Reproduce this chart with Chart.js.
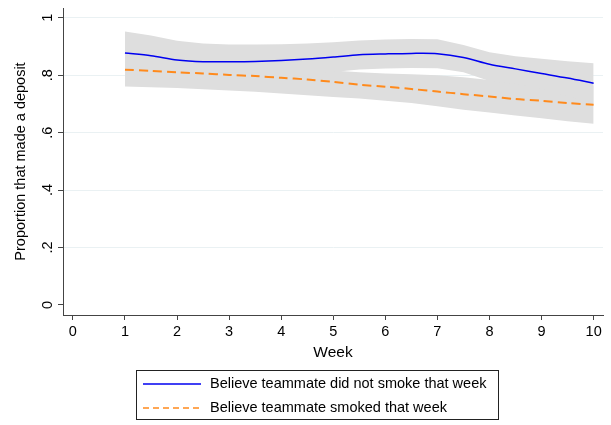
<!DOCTYPE html>
<html>
<head>
<meta charset="utf-8">
<script src="https://cdn.jsdelivr.net/npm/chart.js@4/dist/chart.umd.min.js"></script>
<style>
  html, body { margin: 0; padding: 0; background: #fff; }
  #wrap { width: 611px; height: 425px; position: relative; }
</style>
</head>
<body>
<div id="wrap"><canvas id="c"></canvas></div>
<script>
// ---- data ----
const weeks = [1, 1.5, 2, 2.5, 3, 3.5, 4, 4.5, 5, 5.5, 6, 6.5, 7, 7.5, 8, 8.5, 9, 9.5, 10];

const notSmokeMean  = [0.877, 0.868, 0.853, 0.847, 0.847, 0.848, 0.851, 0.856, 0.863, 0.871, 0.874, 0.876, 0.875, 0.862, 0.838, 0.822, 0.806, 0.790, 0.772];
const notSmokeUpper = [0.952, 0.938, 0.920, 0.910, 0.907, 0.907, 0.908, 0.910, 0.915, 0.921, 0.924, 0.926, 0.925, 0.905, 0.880, 0.866, 0.857, 0.849, 0.842];
const notSmokeLower = [0.802, 0.798, 0.786, 0.784, 0.787, 0.789, 0.794, 0.802, 0.811, 0.820, 0.823, 0.825, 0.824, 0.810, 0.780, 0.770, 0.752, 0.728, 0.702];

const smokedMean  = [0.819, 0.815, 0.810, 0.806, 0.801, 0.797, 0.791, 0.785, 0.777, 0.767, 0.760, 0.752, 0.743, 0.734, 0.726, 0.717, 0.711, 0.703, 0.697];
const smokedUpper = [0.877, 0.868, 0.860, 0.852, 0.846, 0.838, 0.831, 0.824, 0.816, 0.810, 0.806, 0.803, 0.800, 0.793, 0.783, 0.775, 0.770, 0.766, 0.763];
const smokedLower = [0.761, 0.758, 0.755, 0.751, 0.747, 0.742, 0.736, 0.730, 0.724, 0.719, 0.711, 0.703, 0.692, 0.680, 0.670, 0.660, 0.650, 0.640, 0.631];

const xTicks = [0, 1, 2, 3, 4, 5, 6, 7, 8, 9, 10];
const yTicks = [0, 0.2, 0.4, 0.6, 0.8, 1];
const yTickLabels = ['0', '.2', '.4', '.6', '.8', '1'];

const seriesLabels = ['Believe teammate did not smoke that week', 'Believe teammate smoked that week'];
const xTitle = 'Week';
const yTitle = 'Proportion that made a deposit';

// ---- styling ----
const FONT = '"Liberation Sans", Arial, Helvetica, sans-serif';
const BAND = 'rgb(222,222,222)';
const BLUE = '#0000f0';
const ORANGE = '#ff8a1c';
const AXIS = '#444';

const pts = (ys) => weeks.map((w, i) => ({ x: w, y: ys[i] }));

const bandDs = (ys, fillTo) => ({
  data: pts(ys), borderWidth: 0, borderColor: 'transparent', pointRadius: 0,
  backgroundColor: BAND, fill: fillTo, tension: 0
});

const textPlugin = {
  id: 'texts',
  afterDraw(chart) {
    const ctx = chart.ctx;
    const y = chart.scales.y, ca = chart.chartArea;
    ctx.save();
    ctx.fillStyle = '#000';
    // rotated y tick labels
    ctx.font = '14.5px ' + FONT;
    ctx.textAlign = 'center';
    ctx.textBaseline = 'middle';
    yTicks.forEach((v, i) => {
      const py = y.getPixelForValue(v);
      ctx.save();
      ctx.translate(48, py);
      ctx.rotate(-Math.PI / 2);
      ctx.fillText(yTickLabels[i], 0, 0);
      ctx.restore();
    });
    // y title
    ctx.font = '14.5px ' + FONT;
    ctx.save();
    ctx.translate(21, (ca.top + ca.bottom) / 2);
    ctx.rotate(-Math.PI / 2);
    ctx.fillText(yTitle, 0, 0);
    ctx.restore();
    // x title
    ctx.font = '15.5px ' + FONT;
    ctx.fillText(xTitle, (ca.left + ca.right) / 2, 353);
    // legend box
    const bx = 136.5, by = 370.5, bw = 362, bh = 49;
    ctx.strokeStyle = '#222';
    ctx.lineWidth = 1;
    ctx.strokeRect(bx, by, bw, bh);
    const rows = [384, 408];
    const styles = [
      { color: BLUE, dash: [], width: 1.5 },
      { color: ORANGE, dash: [6, 4], width: 1.5 }
    ];
    rows.forEach((ry, i) => {
      ctx.save();
      ctx.strokeStyle = styles[i].color;
      ctx.lineWidth = styles[i].width;
      ctx.setLineDash(styles[i].dash);
      ctx.beginPath();
      ctx.moveTo(143, ry);
      ctx.lineTo(201, ry);
      ctx.stroke();
      ctx.restore();
      ctx.font = '14.5px ' + FONT;
      ctx.textAlign = 'left';
      ctx.fillText(seriesLabels[i], 210, ry);
    });
    ctx.restore();
  }
};

new Chart(document.getElementById('c'), {
  type: 'line',
  data: {
    datasets: [
      { label: seriesLabels[0], data: pts(notSmokeMean), borderColor: BLUE, borderWidth: 1.5, pointRadius: 0, fill: false, tension: 0.3 },
      { label: seriesLabels[1], data: pts(smokedMean), borderColor: ORANGE, borderWidth: 2, borderDash: [9, 5], pointRadius: 0, fill: false, tension: 0.3 },
      bandDs(notSmokeUpper, '+1'),
      bandDs(notSmokeLower, false),
      bandDs(smokedUpper, '+1'),
      bandDs(smokedLower, false)
    ]
  },
  options: {
    responsive: true,
    maintainAspectRatio: false,
    animation: false,
    devicePixelRatio: 1,
    layout: { padding: { left: 0, right: 8, top: 8, bottom: 0 } },
    plugins: {
      legend: { display: false },
      tooltip: { enabled: false },
      filler: { drawTime: 'beforeDatasetsDraw' }
    },
    scales: {
      x: {
        type: 'linear',
        min: -0.19, max: 10.18,
        afterBuildTicks: (s) => { s.ticks = xTicks.map(v => ({ value: v })); },
        afterFit: (s) => { s.height = 110; },
        ticks: { font: { family: FONT, size: 14.5 }, color: '#000', padding: 3, maxRotation: 0, callback: (v) => String(v) },
        grid: { display: true, drawOnChartArea: false, drawTicks: true, tickLength: 5, tickColor: AXIS, tickWidth: 1 },
        border: { display: true, color: AXIS, width: 1 }
      },
      y: {
        type: 'linear',
        min: -0.035, max: 1.034,
        afterBuildTicks: (s) => { s.ticks = yTicks.map(v => ({ value: v })); },
        afterFit: (s) => { s.width = 63; },
        ticks: { display: false },
        grid: {
          drawOnChartArea: true, drawTicks: true, tickLength: 5, tickWidth: 1, tickColor: AXIS,
          color: (c) => (c.tick && c.tick.value === 0) ? 'rgba(0,0,0,0)' : '#eaf1f3',
          lineWidth: 1
        },
        border: { display: true, color: AXIS, width: 1 }
      }
    }
  },
  plugins: [textPlugin]
});
</script>
</body>
</html>
